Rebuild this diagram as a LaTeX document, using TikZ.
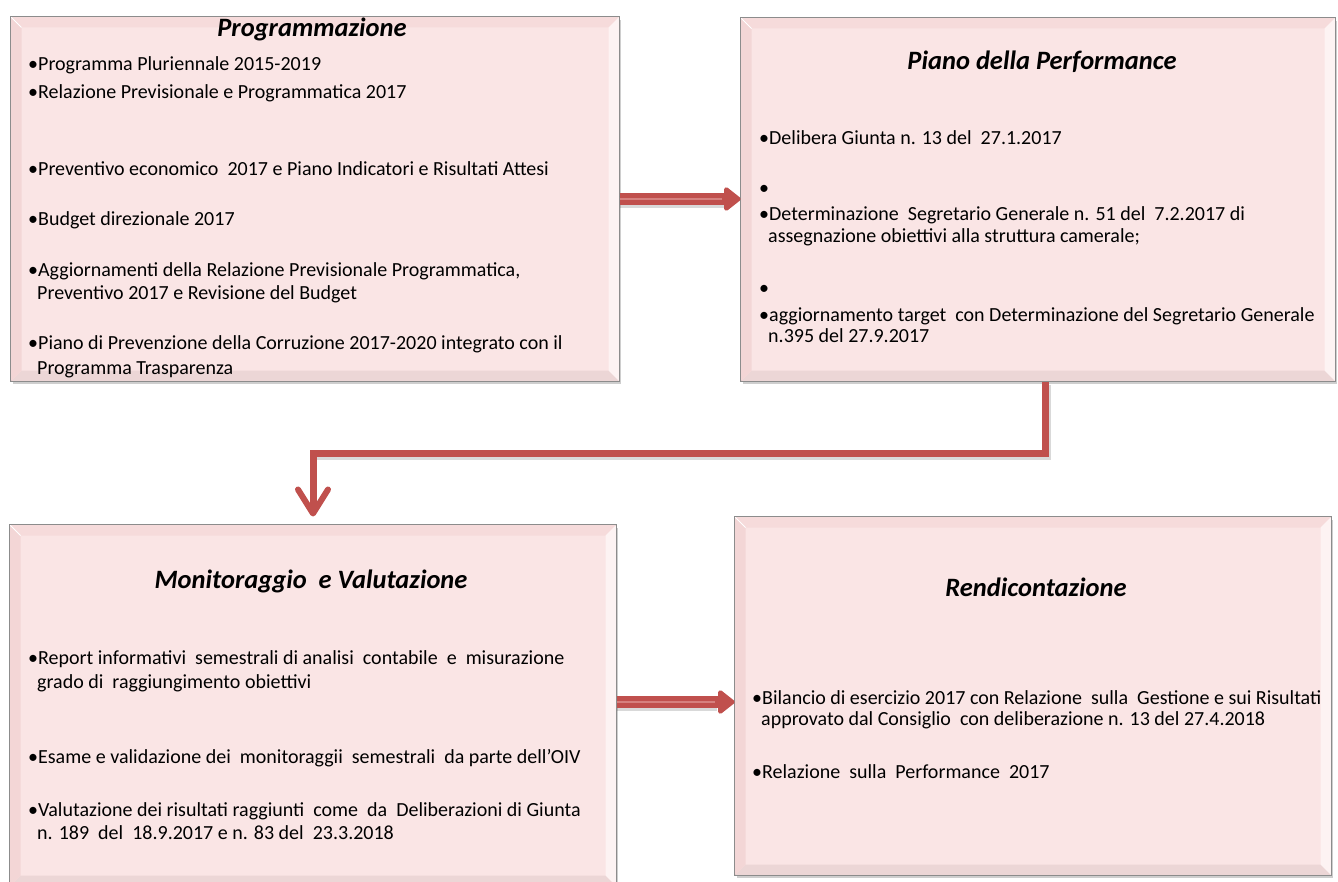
\documentclass[tikz,border=0pt]{standalone}
\usepackage{fontspec}
\setmainfont{Carlito}
\usetikzlibrary{arrows.meta,calc,shadows}
\definecolor{boxfill}{RGB}{250,229,229}
\definecolor{bevT}{RGB}{246,219,219}
\definecolor{bevL}{RGB}{243,214,214}
\definecolor{bevR}{RGB}{253,243,243}
\definecolor{bevB}{RGB}{236,214,214}
\definecolor{edgegray}{RGB}{140,140,140}
\definecolor{arrred}{RGB}{192,80,77}
\definecolor{arrlight}{RGB}{214,128,126}
\tikzset{
  box/.style={draw=edgegray, line width=1pt, fill=boxfill, inner sep=0pt,
    drop shadow={shadow xshift=2pt, shadow yshift=-3pt, opacity=0.35, fill=black!55}},
  ttl/.style={anchor=base, font=\fontsize{26.5}{30}\selectfont\bfseries\itshape, inner sep=0pt},
  txt/.style={anchor=base west, font=\fontsize{20}{23}\selectfont, inner sep=0pt},
  blockarr/.style={draw=arrred, line width=12pt, -{Triangle[length=18pt,width=27pt,round]}},
  blockshadow/.style={draw=black, opacity=0.15, line width=12pt},
  innerline/.style={draw=arrlight, line width=1.2pt},
  conn/.style={draw=arrred, line width=7pt, line join=miter, -{Straight Barb[length=24pt,width=30pt,line width=6pt,round]}, shorten >=8pt},
  connshadow/.style={draw=black, opacity=0.15, line width=8pt},
}
\newcommand{\bevelbox}[1]{%
  \fill[bevT] (#1.north west) -- (#1.north east) -- ($(#1.north east)+(-11,11)$) -- ($(#1.north west)+(11,11)$) -- cycle;
  \fill[bevB] (#1.south west) -- (#1.south east) -- ($(#1.south east)+(-11,-11)$) -- ($(#1.south west)+(11,-11)$) -- cycle;
  \fill[bevL] (#1.north west) -- (#1.south west) -- ($(#1.south west)+(11,-11)$) -- ($(#1.north west)+(11,11)$) -- cycle;
  \fill[bevR] (#1.north east) -- (#1.south east) -- ($(#1.south east)+(-11,-11)$) -- ($(#1.north east)+(-11,11)$) -- cycle;
  \draw[white, line width=0.8pt] (#1.north west) -- ($(#1.north west)+(11,11)$);
  \draw[edgegray, line width=1.2pt] (#1.north west) rectangle (#1.south east);
}
\begin{document}
\begin{tikzpicture}[x=1pt,y=-1pt]
\useasboundingbox (0,0) rectangle (1338,882);
\fill[white] (0,0) rectangle (1338,882);

% boxes
\node[box, minimum width=608pt, minimum height=364pt] (b1) at (315,199) {};
\node[box, minimum width=594pt, minimum height=363pt] (b2) at (1038,199.5) {};
\node[box, minimum width=606pt, minimum height=361pt] (b3) at (313,705.5) {};
\node[box, minimum width=596pt, minimum height=358pt] (b4) at (1033,696) {};
\bevelbox{b1}
\bevelbox{b2}
\bevelbox{b3}
\bevelbox{b4}

% connectors
\coordinate (c1) at (1045,453);
\coordinate (c2) at (313,453);
\draw[connshadow] ([xshift=2pt,yshift=-3pt]c1 |- b2.south) -- ([xshift=2pt,yshift=-3pt]c1) -- ([xshift=2pt,yshift=-3pt]c2);
\draw[conn] (c1 |- b2.south) -- (c1) -- (c2) -- (c2 |- b3.north);

\draw[blockshadow] ([yshift=-3pt]b1.east |- 0,199) -- ++(104,0);
\draw[blockarr] (b1.east |- 0,199) -- (b2.west |- 0,199);
\draw[innerline] (b1.east |- 0,199) -- ++(102,0);
\draw[blockshadow] ([yshift=-3pt]b3.east |- 0,702) -- ++(100,0);
\draw[blockarr] (b3.east |- 0,702) -- (b4.west |- 0,702);
\draw[innerline] (b3.east |- 0,702) -- ++(98,0);

% box 1
\node[ttl] (t1) at (312,37) {Programmazione};
\node[txt] (p1a) at (28,71) {•Programma Pluriennale 2015-2019};
\node[txt] (p1b) at (28,99) {•Relazione Previsionale e Programmatica 2017};
\node[txt] (p1c) at (28,176) {•Preventivo economico\ \ 2017 e Piano Indicatori e Risultati Attesi};
\node[txt] (p1d) at (28,226) {•Budget direzionale 2017};
\node[txt] (p1e) at (28,277) {•Aggiornamenti della Relazione Previsionale Programmatica,};
\node[txt] (p1f) at (37,300) {Preventivo 2017 e Revisione del Budget};
\node[txt] (p1g) at (28,349) {•Piano di Prevenzione della Corruzione 2017-2020 integrato con il};
\node[txt] (p1h) at (37,374) {Programma Trasparenza};

% box 2
\node[ttl] (t2) at (1042,70) {Piano della Performance};
\node[txt] (p2a) at (759,145) {•Delibera Giunta n. 13 del\ \ 27.1.2017};
\node[txt] (p2b) at (759,195) {•};
\node[txt] (p2c) at (759,221) {•Determinazione\ \ Segretario Generale n. 51 del\ \ 7.2.2017 di};
\node[txt] (p2d) at (768,243) {assegnazione obiettivi alla struttura camerale;};
\node[txt] (p2e) at (759,295) {•};
\node[txt] (p2f) at (759,322) {•aggiornamento target\ \ con Determinazione del Segretario Generale};
\node[txt] (p2g) at (768,343) {n.395 del 27.9.2017};

% box 3
\node[ttl] (t3) at (311,588) {Monitoraggio\ \ e Valutazione};
\node[txt] (p3a) at (28,664) {•Report informativi\ \ semestrali di analisi\ \ contabile\ \ e\ \ misurazione};
\node[txt] (p3b) at (37,688) {grado di\ \ raggiungimento obiettivi};
\node[txt] (p3c) at (28,763) {•Esame e validazione dei\ \ monitoraggii\ \ semestrali\ \ da parte dell'OIV};
\node[txt] (p3d) at (28,816) {•Valutazione dei risultati raggiunti\ \ come\ \ da\ \ Deliberazioni di Giunta};
\node[txt] (p3e) at (37,839) {n. 189\ \ del\ \ 18.9.2017 e n. 83 del\ \ 23.3.2018};

% box 4
\node[ttl] (t4) at (1036,596) {Rendicontazione};
\node[txt] (p4a) at (752,704) {•Bilancio di esercizio 2017 con Relazione\ \ sulla\ \ Gestione e sui Risultati};
\node[txt] (p4b) at (761,725) {approvato dal Consiglio\ \ con deliberazione n. 13 del 27.4.2018};
\node[txt] (p4c) at (752,778) {•Relazione\ \ sulla\ \ Performance\ \ 2017};
\end{tikzpicture}
\end{document}
